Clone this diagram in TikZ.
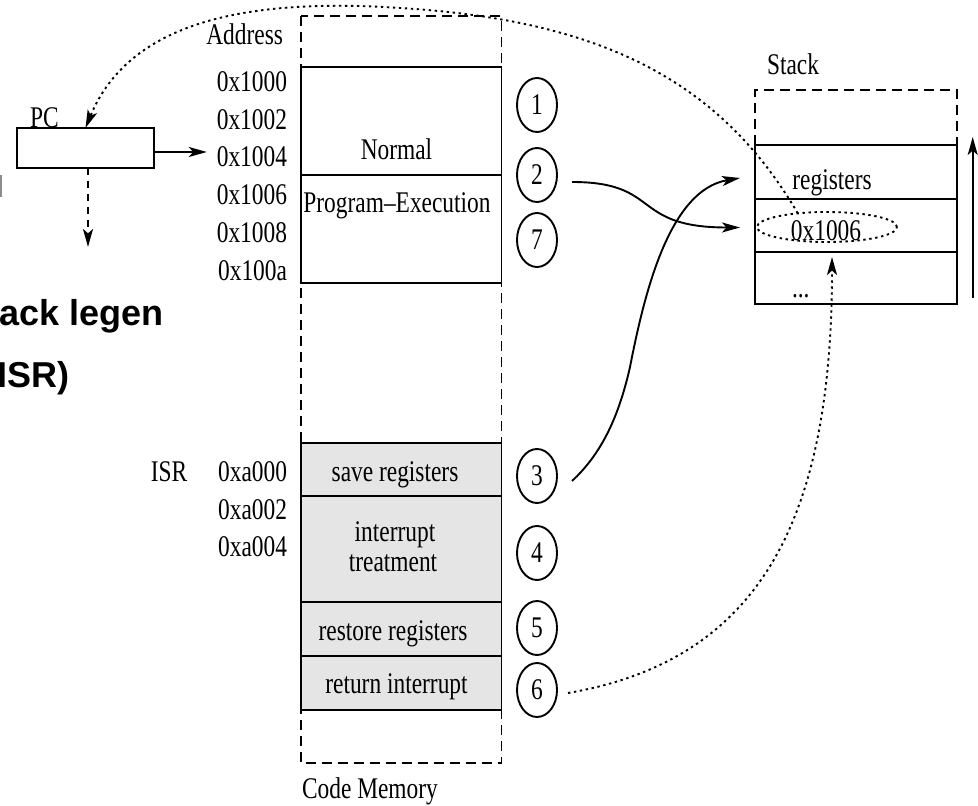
\documentclass[tikz,border=0pt]{standalone}
\usepackage{fontspec}
\setmainfont[FakeStretch=0.78]{Liberation Serif}
\newfontfamily\slidefont{Liberation Sans}
\usetikzlibrary{shapes.geometric,arrows.meta}
\begin{document}
\begin{tikzpicture}[x=0.5pt,y=-0.5pt,line width=0.95pt,
  every node/.style={inner sep=0pt,outer sep=0pt,font=\fontsize{15}{18}\selectfont},
  txt/.style={anchor=base},
  addr/.style={anchor=base east},
  lefttxt/.style={anchor=base west},
  stepnum/.style={draw,ellipse,minimum width=20pt,minimum height=27pt},
  slot/.style={draw,minimum width=101pt,anchor=north west},
  isrbox/.style={draw,fill=black!10},
  tip/.style={-{Stealth[length=9pt,width=5pt,inset=2.2pt]}},
  dashline/.style={dash pattern=on 5pt off 3pt},
  dotline/.style={dash pattern=on 1.2pt off 1.8pt},
  slide/.style={anchor=base west,font=\slidefont\bfseries\fontsize{18}{21}\selectfont}
]
\fill[white] (0,0) rectangle (978,806);
\useasboundingbox (0,0) rectangle (978,806);

% slide text running in from the left
\fill[black!45] (0,175) rectangle (2,197);
\node[slide] (slideA) at (-1,326) {ack legen};
\node[slide] (slideB) at (-3,387) {ISR)};

% code memory
\draw[dashline] (300.7,16) rectangle (501.5,763);
\draw[fill=white] (300.7,67) rectangle (501.5,283);
\draw (300.7,175) -- (501.5,175);
\draw[isrbox] (300.7,443) rectangle (501.5,710);
\draw (300.7,496) -- (501.5,496);
\draw (300.7,602) -- (501.5,602);
\draw (300.7,656) -- (501.5,656);

\node[txt] (tNormal) at (396.5,160) {Normal};
\node[txt] (tProg) at (397,213) {Program–Execution};
\node[txt] (tSave) at (395,481) {save registers};
\node[txt] (tInt) at (395,541.7) {interrupt};
\node[txt] (tTreat) at (393,571.7) {treatment};
\node[txt] (tRestore) at (393,640) {restore registers};
\node[txt] (tReturn) at (396.5,693) {return interrupt};
\node[lefttxt] (tCode) at (302,798) {Code Memory};

% addresses
\node[addr] (aHead) at (283,45) {Address};
\node[addr] (a1000) at (287,91.5) {0x1000};
\node[addr] (a1002) at (287,129.5) {0x1002};
\node[addr] (a1004) at (287,167) {0x1004};
\node[addr] (a1006) at (287,205) {0x1006};
\node[addr] (a1008) at (287,243) {0x1008};
\node[addr] (a100a) at (287,281) {0x100a};
\node[txt] (tISR) at (169,481.5) {ISR};
\node[addr] (aa000) at (287,481.5) {0xa000};
\node[addr] (aa002) at (287,519) {0xa002};
\node[addr] (aa004) at (287,556) {0xa004};

% step numbers
\node[stepnum] (c1) at (537,105) {1};
\node[stepnum] (c2) at (537,175) {2};
\node[stepnum] (c7) at (537,240) {7};
\node[stepnum] (c3) at (537,476) {3};
\node[stepnum] (c4) at (537,553) {4};
\node[stepnum] (c5) at (537,628) {5};
\node[stepnum] (c6) at (537,690) {6};

% program counter
\node[draw,minimum width=68.5pt,minimum height=20pt] (pc) at (85.5,148) {};
\node[lefttxt] (tPC) at (30,128) {PC};
\coordinate (pcdown) at (88,247);

% stack
\node[lefttxt] (tStack) at (767,75) {Stack};
\draw[dashline] (755,145) -- (755,90) -- (956.7,90) -- (956.7,145);
\node[slot,minimum height=27pt] (sreg) at (755,145) {};
\node[slot,minimum height=26.5pt] (sval) at (sreg.south west) {};
\node[slot,minimum height=26pt] (srest) at (sval.south west) {};
\node[txt] (tReg) at (832,190) {registers};
\node[txt] (tVal) at (826,241) {0x1006};
\node[draw,dotline,ellipse,minimum width=70pt,minimum height=15pt] (sell) at (827,227) {};
\node[lefttxt] (tDots) at (792,298) {...};
\coordinate (gbot) at (972.7,298);
\coordinate (gtop) at (972.7,137);
\draw[tip] (gbot) -- (gtop);

% connectors
\draw[tip] ([yshift=-2pt]pc.east) -- ([xshift=-5pt,yshift=-2pt]pc.east -| a1004.west);
\draw[tip,dash pattern=on 3.5pt off 3pt] (pc.south -| pcdown) -- (pcdown);
\draw[tip,dotline] (sell.155) .. controls (720,80) and (600,20) .. (400,8)
  .. controls (250,-2) and (130,20) .. (pc.north);
\draw[tip] ([shift={(15,7)}]c2.east) .. controls +(90,0) and +(-110,0) .. ([xshift=-7.5pt,yshift=-1pt]sval.west);
\draw[tip] ([shift={(15,5)}]c3.east) .. controls (600,455) and (618,420) .. (630,367)
  .. controls (645,290) and (670,190) .. ([xshift=-7.5pt,yshift=-3pt]sreg.west);
\draw[tip,dotline] ([shift={(11,3)}]c6.east) .. controls (760,660) and (832,520) .. ([shift={(-24,5)}]srest.north);
\end{tikzpicture}
\end{document}
